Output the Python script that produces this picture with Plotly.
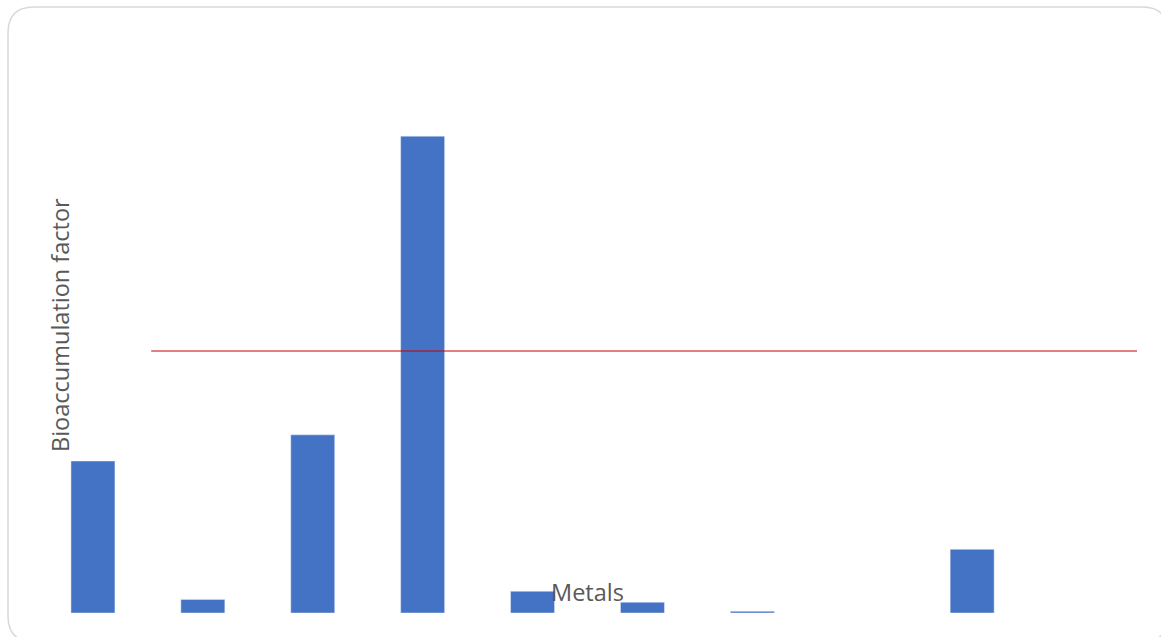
import plotly.graph_objects as go

# Data (threshold line at BAF = 1)
metals = [0, 1, 2, 3, 4, 5, 6, 7, 8, 9]
baf = [0.58, 0.052, 0.68, 1.82, 0.083, 0.041, 0.0065, None, 0.243, None]
threshold = 1.0
threshold_start = 0.53

W, H = 1161, 637
L, R, T, B = 38, 24, 89, 24
pw, ph = W - L - R, H - T - B


def px(x):
    return (x - L) / pw


def py(y):
    return (H - B - y) / ph


fig = go.Figure()
fig.add_trace(go.Bar(x=metals, y=baf, marker_color="#4472C4", width=0.4,
                     hoverinfo="y", showlegend=False))

fig.add_shape(type="line", xref="x", yref="y", x0=threshold_start, x1=9.5,
              y0=threshold, y1=threshold, line=dict(color="#c80000", width=1))

# rounded card border
x0, y0, x1, y1, r = 8, 7, 1168, 642, 26
path = (f"M {px(x0+r)},{py(y0)} L {px(x1-r)},{py(y0)} "
        f"Q {px(x1)},{py(y0)} {px(x1)},{py(y0+r)} "
        f"L {px(x1)},{py(y1-r)} Q {px(x1)},{py(y1)} {px(x1-r)},{py(y1)} "
        f"L {px(x0+r)},{py(y1)} Q {px(x0)},{py(y1)} {px(x0)},{py(y1-r)} "
        f"L {px(x0)},{py(y0+r)} Q {px(x0)},{py(y0)} {px(x0+r)},{py(y0)} Z")
fig.add_shape(type="path", xref="paper", yref="paper", path=path,
              line=dict(color="#d9d9d9", width=1.5), layer="below")

fig.add_annotation(text="Metals", xref="paper", yref="paper",
                   x=px(587), y=py(592), xanchor="center", yanchor="middle",
                   showarrow=False, font=dict(family="Open Sans", size=23.5, color="#595959"))
fig.add_annotation(text="Bioaccumulation factor", xref="paper", yref="paper",
                   x=px(60), y=py(325), xanchor="center", yanchor="middle",
                   textangle=-90, showarrow=False,
                   font=dict(family="Open Sans", size=23.5, color="#595959"))

fig.update_layout(
    width=W, height=H, margin=dict(l=L, r=R, t=T, b=B),
    paper_bgcolor="white", plot_bgcolor="white",
    xaxis=dict(range=[-0.5, 9.5], showticklabels=False, showgrid=False,
               zeroline=False, showline=False, ticks=""),
    yaxis=dict(range=[0, 2], showticklabels=False, showgrid=False,
               zeroline=False, showline=False, ticks=""),
    bargap=0.6,
)

fig.write_html("out.html")
